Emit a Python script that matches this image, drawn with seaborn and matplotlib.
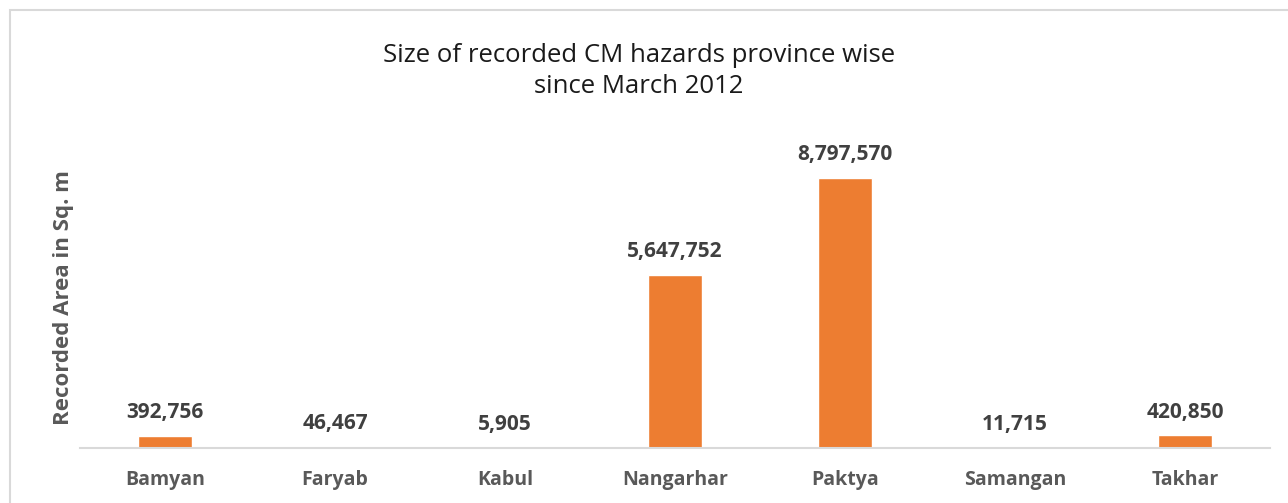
import pandas as pd
import matplotlib.pyplot as plt
import seaborn as sns
from matplotlib.patches import Rectangle

provinces = ['Bamyan', 'Faryab', 'Kabul', 'Nangarhar', 'Paktya', 'Samangan', 'Takhar']
area_sqm = [392756, 46467, 5905, 5647752, 8797570, 11715, 420850]

df = pd.DataFrame({'Province': provinces, 'Area': area_sqm})

sns.set_style('white')
plt.rcParams['font.family'] = ['Open Sans', 'DejaVu Sans']

W, H = 1288, 503
fig = plt.figure(figsize=(W / 100, H / 100), dpi=100)
ax = fig.add_axes([80 / W, (H - 448) / H, (1270 - 80) / W, (448 - 141) / H])

sns.barplot(data=df, x='Province', y='Area', color='#ED7D31', width=0.32,
            saturation=1, ax=ax)

ax.set_ylim(0, 10_000_000)
ax.set_xlim(-0.5, len(provinces) - 0.5)

for c in ax.containers:
    ax.bar_label(c, labels=[f'{v:,.0f}' for v in area_sqm], padding=9,
                 fontsize=15, fontweight='bold', color='#404040')

for s in ['top', 'right', 'left']:
    ax.spines[s].set_visible(False)
ax.spines['bottom'].set_color('#D9D9D9')
ax.spines['bottom'].set_linewidth(1.5)
ax.set_yticks([])
ax.tick_params(axis='x', length=0, pad=16, labelsize=14, labelcolor='#595959')
for t in ax.get_xticklabels():
    t.set_fontweight('bold')
ax.set_xlabel('')
ax.set_ylabel('')

fig.text(63 / W, 1 - 298 / H, 'Recorded Area in Sq. m', rotation=90,
         ha='center', va='center', fontsize=16, fontweight='bold', color='#595959')
fig.text(639 / W, 1 - 71 / H, 'Size of recorded CM hazards province wise\nsince March 2012',
         ha='center', va='center', fontsize=18.5, color='#1a1a1a', linespacing=1.3)

# chart area border (cut off at right and bottom)
fig.patches.append(Rectangle((10 / W, -0.05), 1.1, 1 - 10 / H + 0.05,
                             transform=fig.transFigure, fill=False,
                             edgecolor='#D9D9D9', linewidth=1.5))

fig.savefig('out.png', dpi=100)
